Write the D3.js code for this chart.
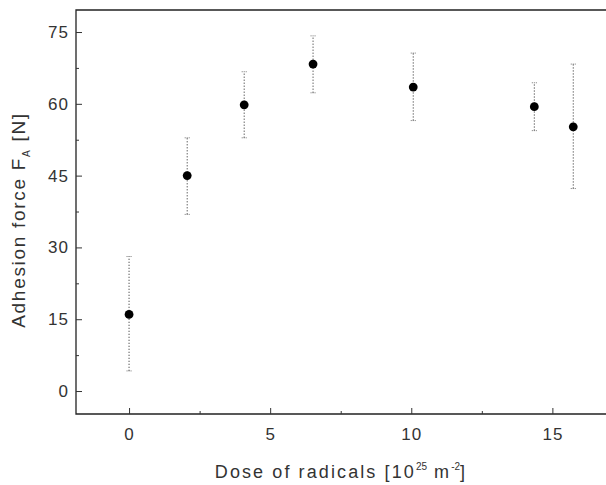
<!DOCTYPE html>
<html>
<head>
<meta charset="utf-8">
<script src="https://cdn.jsdelivr.net/npm/d3@7"></script>
<style>
  body { margin: 0; background: #fff; }
  text { font-family: "Liberation Sans", Arial, sans-serif; fill: #333; }
</style>
</head>
<body>
<div id="chart"></div>
<script>
// Adhesion force vs dose of radicals
let dose = [0, 2.06, 4.08, 6.52, 10.07, 14.36, 15.74];
let force = [16.0, 45.0, 59.8, 68.3, 63.5, 59.4, 55.2];
let errHigh = [28.1, 52.9, 66.7, 74.2, 70.6, 64.4, 68.3];
let errLow = [4.2, 36.9, 52.9, 62.3, 56.5, 54.4, 42.3];

let xTicks = [0, 5, 10, 15];
let xMinor = [2.5, 7.5, 12.5];
let yTicks = [0, 15, 30, 45, 60, 75];
let yMinor = [7.5, 22.5, 37.5, 52.5, 67.5];

let width = 606,
    height = 485,
    margin = {top: 10, right: 0, bottom: 71, left: 76};

let x = d3.scaleLinear()
      .domain([-1.88, 16.9])
      .range([margin.left, width - margin.right]);

let y = d3.scaleLinear()
      .domain([-4.8, 79.6])
      .range([height - margin.bottom, margin.top]);

let svg = d3.select("#chart")
      .append("svg")
      .attr("width", width)
      .attr("height", height);

// frame (left, top, bottom)
svg.append("path")
    .attr("d", "M" + (width - margin.right) + "," + margin.top +
               "H" + margin.left +
               "V" + (height - margin.bottom) +
               "H" + (width - margin.right))
    .style("fill", "none")
    .style("stroke", "#222")
    .style("stroke-width", 1.3);

// x axis, ticks pointing inward
let xAxis = svg.append("g")
      .attr("transform", "translate(0," + (height - margin.bottom) + ")")
      .call(d3.axisBottom(x).tickValues(xTicks).tickSizeInner(-6).tickSizeOuter(0).tickPadding(14));
xAxis.append("g")
    .call(d3.axisBottom(x).tickValues(xMinor).tickSizeInner(-3).tickSizeOuter(0).tickFormat(""));

// y axis, ticks pointing inward
let yAxis = svg.append("g")
      .attr("transform", "translate(" + margin.left + ",0)")
      .call(d3.axisLeft(y).tickValues(yTicks).tickSizeInner(-6).tickSizeOuter(0).tickPadding(7));
yAxis.append("g")
    .call(d3.axisLeft(y).tickValues(yMinor).tickSizeInner(-3).tickSizeOuter(0).tickFormat(""));

svg.selectAll(".domain").remove();
svg.selectAll(".tick line").style("stroke", "#333");
svg.selectAll(".tick text")
    .style("font-size", "17px")
    .style("letter-spacing", "1px")
    .style("font-family", "\"Liberation Sans\", Arial, sans-serif")
    .style("fill", "#333");

// error bars
let bars = svg.append("g").selectAll("g")
      .data(dose)
      .enter().append("g");

bars.append("line")
    .attr("x1", function(d) { return x(d); })
    .attr("x2", function(d) { return x(d); })
    .attr("y1", function(d, i) { return y(errLow[i]); })
    .attr("y2", function(d, i) { return y(errHigh[i]); })
    .style("stroke", "#444")
    .style("stroke-width", 1)
    .style("stroke-dasharray", "1.2,1.8");

bars.selectAll(".cap")
    .data(function(d, i) { return [[d, errLow[i]], [d, errHigh[i]]]; })
    .enter().append("line")
    .attr("class", "cap")
    .attr("x1", function(d) { return x(d[0]) - 2.5; })
    .attr("x2", function(d) { return x(d[0]) + 2.5; })
    .attr("y1", function(d) { return y(d[1]); })
    .attr("y2", function(d) { return y(d[1]); })
    .style("stroke", "#777")
    .style("stroke-width", 1)
    .style("stroke-dasharray", "1,1");

// points
svg.append("g").selectAll("circle")
    .data(dose)
    .enter().append("circle")
    .attr("cx", function(d) { return x(d); })
    .attr("cy", function(d, i) { return y(force[i]); })
    .attr("r", 4.4)
    .style("fill", "#000");

// axis titles
let xTitle = svg.append("text")
      .attr("x", 341)
      .attr("y", 478)
      .attr("text-anchor", "middle")
      .style("font-size", "18px")
      .style("letter-spacing", "2.1px");
xTitle.append("tspan").text("Dose of radicals [10");
xTitle.append("tspan").attr("dy", -8).style("font-size", "10px").style("letter-spacing", "0").text("25");
xTitle.append("tspan").attr("dy", 8).text("  m");
xTitle.append("tspan").attr("dy", -8).style("font-size", "10px").style("letter-spacing", "0").text("-2");
xTitle.append("tspan").attr("dy", 8).text("]");

let yTitle = svg.append("text")
      .attr("transform", "translate(25,220) rotate(-90)")
      .attr("text-anchor", "middle")
      .style("font-size", "19px")
      .style("letter-spacing", "1.7px");
yTitle.append("tspan").text("Adhesion force F");
yTitle.append("tspan").attr("dy", 5).style("font-size", "10px").text("A");
yTitle.append("tspan").attr("dy", -5).text(" [N]");
</script>
</body>
</html>
